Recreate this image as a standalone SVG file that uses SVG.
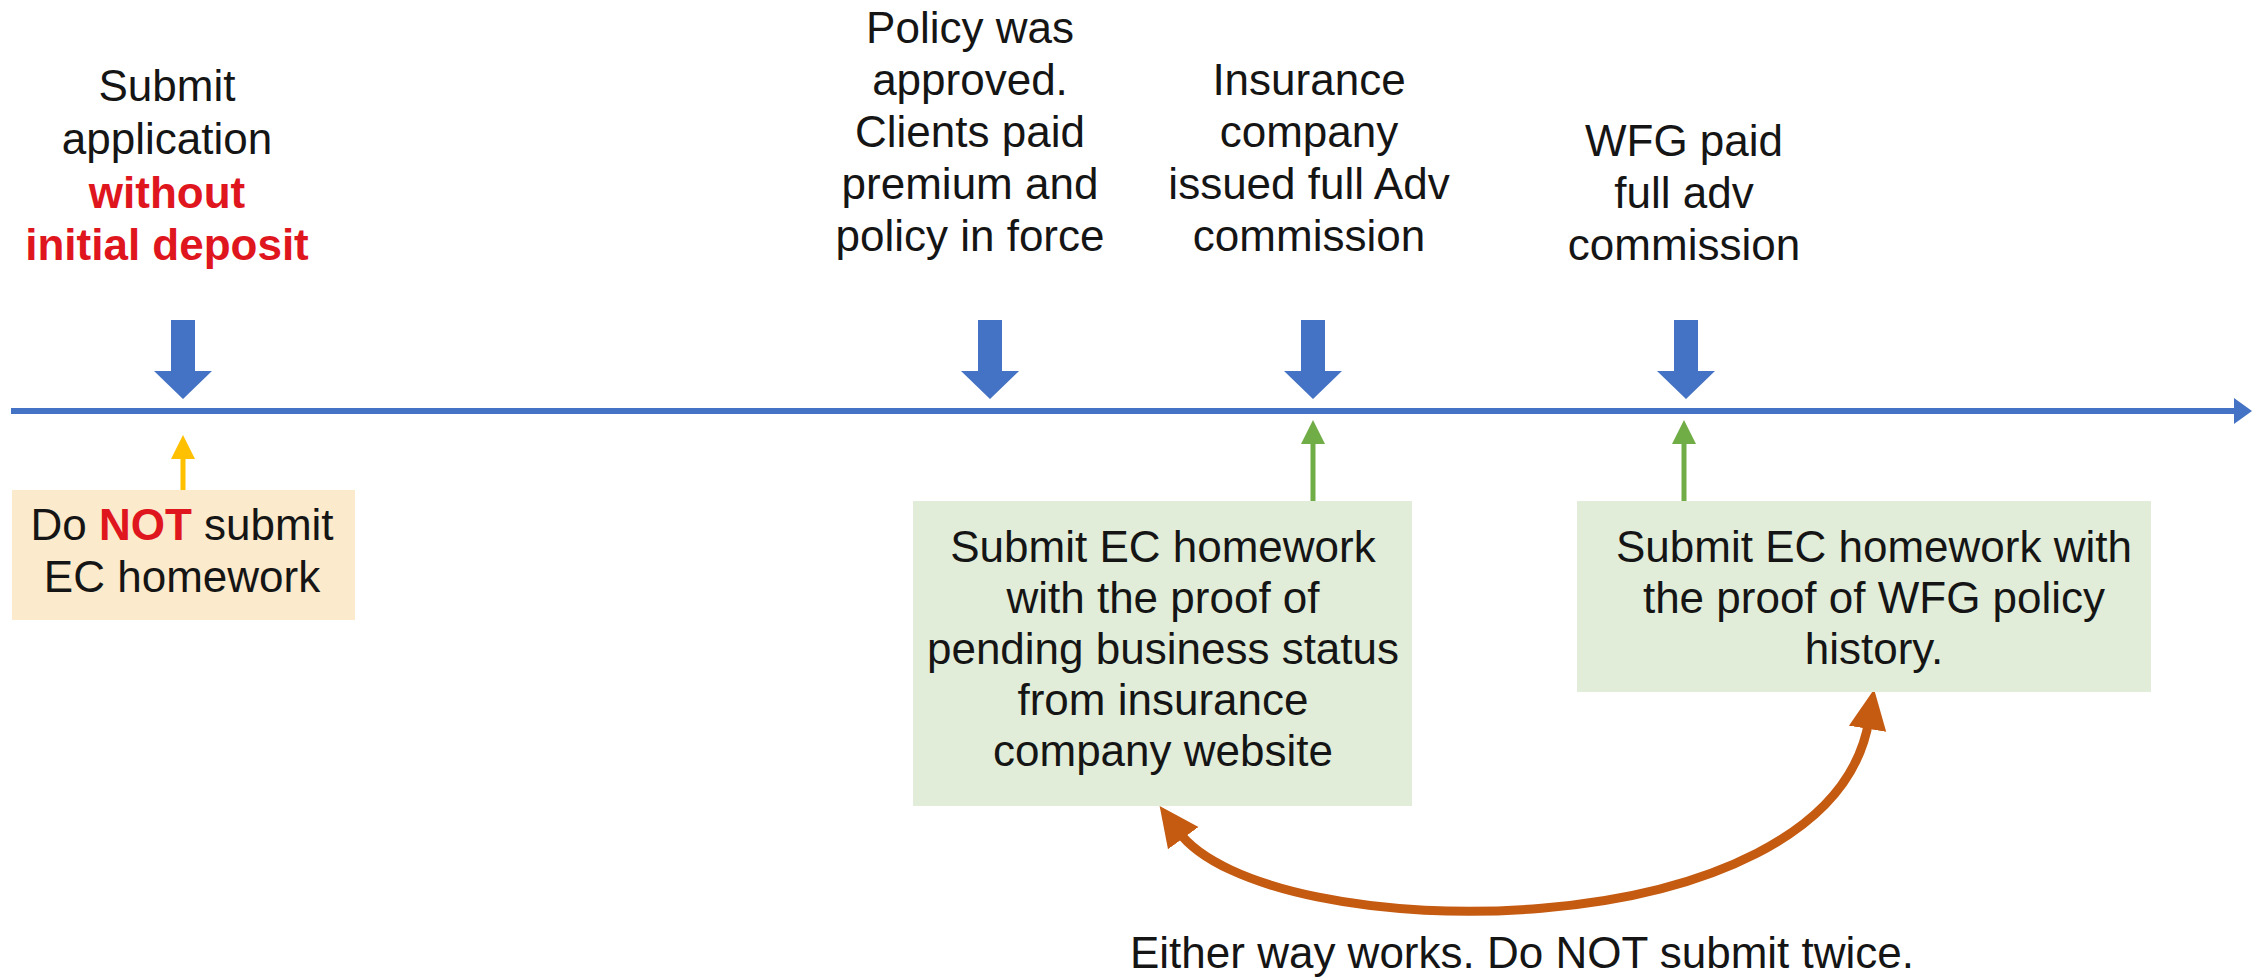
<svg xmlns="http://www.w3.org/2000/svg" width="2252" height="980" viewBox="0 0 2252 980">
<style>
.t{font-family:"Liberation Sans",Arial,sans-serif;font-size:44px;fill:#151515;text-anchor:middle}
.red{fill:#E0161E;font-weight:bold}
.box-y{fill:#FBEACB}
.box-g{fill:#E2EDD9}
.blue{fill:#4472C4}
</style>
<defs>
<path id="downArrow" d="M-12,320 L12,320 L12,371 L29,371 L0,399 L-29,371 L-12,371 Z"/>
<marker id="gHead" markerUnits="userSpaceOnUse" markerWidth="24" markerHeight="24" viewBox="0 0 24 24" refX="2" refY="12" orient="auto"><path d="M0,0 L24,12 L0,24 Z" fill="#70AD47"/></marker>
<marker id="yHead" markerUnits="userSpaceOnUse" markerWidth="24" markerHeight="24" viewBox="0 0 24 24" refX="2" refY="12" orient="auto"><path d="M0,0 L24,12 L0,24 Z" fill="#FFC000"/></marker>
<marker id="oHead" markerUnits="userSpaceOnUse" markerWidth="40" markerHeight="40" viewBox="0 0 36 34" refX="8" refY="17" orient="auto-start-reverse"><path d="M0,0 L36,17 L0,34 Z" fill="#C55A11"/></marker>
</defs>
<rect width="2252" height="980" fill="#FFFFFF"/>

<g id="connectors">
<line x1="11" y1="411" x2="2240" y2="411" stroke="#4472C4" stroke-width="6"/>
<path d="M2234,398 L2252,411 L2234,424 Z" class="blue"/>
<use href="#downArrow" x="183" class="blue"/>
<use href="#downArrow" x="990" class="blue"/>
<use href="#downArrow" x="1313" class="blue"/>
<use href="#downArrow" x="1686" class="blue"/>
<line x1="183" y1="490" x2="183" y2="457" stroke="#FFC000" stroke-width="5" marker-end="url(#yHead)"/>
<line x1="1313" y1="501" x2="1313" y2="442" stroke="#70AD47" stroke-width="5" marker-end="url(#gHead)"/>
<line x1="1684" y1="501" x2="1684" y2="442" stroke="#70AD47" stroke-width="5" marker-end="url(#gHead)"/>
<path d="M1178,831 C1265,950 1830,955 1869,720" fill="none" stroke="#C55A11" stroke-width="9" marker-start="url(#oHead)" marker-end="url(#oHead)"/>
</g>

<g id="event-submit">
<text class="t" x="167" y="101">Submit</text>
<text class="t" x="167" y="154">application</text>
<text class="t red" x="167" y="208">without</text>
<text class="t red" x="167" y="260">initial deposit</text>
</g>

<g id="event-approved">
<text class="t" x="970" y="43">Policy was</text>
<text class="t" x="970" y="95">approved.</text>
<text class="t" x="970" y="147">Clients paid</text>
<text class="t" x="970" y="199">premium and</text>
<text class="t" x="970" y="251">policy in force</text>
</g>

<g id="event-issued">
<text class="t" x="1309" y="95">Insurance</text>
<text class="t" x="1309" y="147">company</text>
<text class="t" x="1309" y="199">issued full Adv</text>
<text class="t" x="1309" y="251">commission</text>
</g>

<g id="event-paid">
<text class="t" x="1684" y="156">WFG paid</text>
<text class="t" x="1684" y="208">full adv</text>
<text class="t" x="1684" y="260">commission</text>
</g>

<g id="box-donot">
<rect class="box-y" x="12" y="490" width="343" height="130"/>
<text class="t" x="182" y="540">Do <tspan class="red">NOT</tspan> submit</text>
<text class="t" x="182" y="592">EC homework</text>
</g>

<g id="box-pending">
<rect class="box-g" x="913" y="501" width="499" height="305"/>
<text class="t" x="1163" y="562">Submit EC homework</text>
<text class="t" x="1163" y="613">with the proof of</text>
<text class="t" x="1163" y="664">pending business status</text>
<text class="t" x="1163" y="715">from insurance</text>
<text class="t" x="1163" y="766">company website</text>
</g>

<g id="box-history">
<rect class="box-g" x="1577" y="501" width="574" height="191"/>
<text class="t" x="1874" y="562">Submit EC homework with</text>
<text class="t" x="1874" y="613">the proof of WFG policy</text>
<text class="t" x="1874" y="664">history.</text>
</g>

<g id="note">
<text class="t" x="1522" y="968">Either way works. Do NOT submit twice.</text>
</g>
</svg>
